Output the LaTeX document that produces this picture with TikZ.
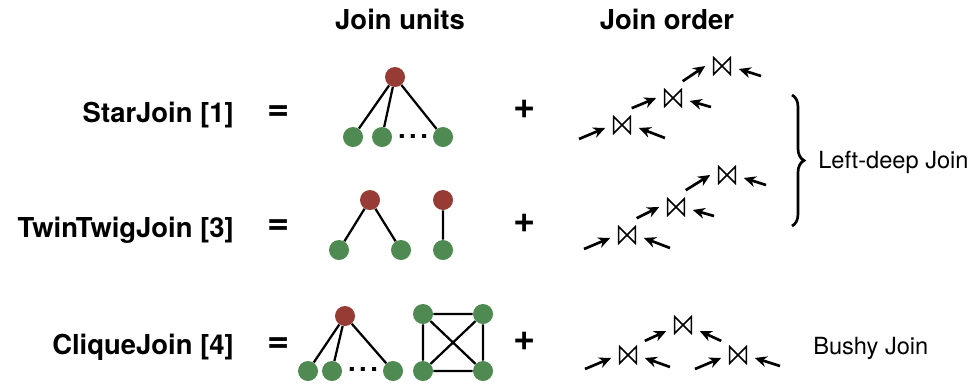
\documentclass[tikz,border=0pt]{standalone}
\usepackage{fontspec}
\setmainfont{TeX Gyre Heros}
\usetikzlibrary{arrows.meta,decorations.pathreplacing}

\begin{document}
\begin{tikzpicture}[x=0.025cm,y=-0.025cm,
  root/.style={circle,fill=rootred,minimum size=0.5cm,inner sep=0},
  leaf/.style={circle,fill=leafgreen,minimum size=0.5cm,inner sep=0},
  edge/.style={line width=1.6pt},
  lbl/.style={font=\fontsize{19.5}{23}\selectfont\bfseries,inner sep=0},
  op/.style={font=\fontsize{27}{30}\selectfont\bfseries,inner sep=0},
  txt/.style={font=\fontsize{16.8}{20}\selectfont,inner sep=0},
  jn/.style={minimum size=0.46cm,inner sep=0,outer sep=0.19cm,
    path picture={\draw[line width=1.2pt]
      ([shift={(0.6pt,0.6pt)}]path picture bounding box.south west) --
      ([shift={(0.6pt,-0.6pt)}]path picture bounding box.north west) --
      ([shift={(-0.6pt,0.6pt)}]path picture bounding box.south east) --
      ([shift={(-0.6pt,-0.6pt)}]path picture bounding box.north east) -- cycle;}},
  jarrow/.style={-{Stealth[length=0.3cm,width=0.27cm]},line width=1.9pt}]
\definecolor{rootred}{HTML}{973B35}
\definecolor{leafgreen}{HTML}{4E8A52}
\useasboundingbox (0,0) rectangle (972,383);

% column heads
\node[lbl,anchor=base] (units) at (400,29) {Join units};
\node[lbl,anchor=base] (order) at (667,29) {Join order};

% row names, = and +
\foreach \nm/\txt/\y/\yc in {star/StarJoin [1]/122/113, twin/TwinTwigJoin [3]/237/227, clique/CliqueJoin [4]/354/345}
{
  \node[lbl,anchor=base east] (\nm) at (234,\y) {\txt};
  \node[op] (\nm eq) at (279,\yc) {=};
  \node[op] (\nm plus) at (525,\yc-4) {+};
}

% star unit
\node[root] (sr) at (395,77) {};
\node[leaf] (sa) at (353,137) {};
\node[leaf] (sb) at (382,137) {};
\node[leaf] (sc) at (443,137) {};
\node[lbl] (sdots) at (413,136) {.\hspace{2.5pt}.\hspace{2.5pt}.};
\draw[edge] (sr) -- (sa) (sr) -- (sb) (sr) -- (sc);

% twin twig units
\node[root] (tr) at (370,200) {};
\node[leaf] (ta) at (339,250) {};
\node[leaf] (tb) at (401,250) {};
\node[root] (ur) at (443,200) {};
\node[leaf] (ua) at (443,250) {};
\draw[edge] (tr) -- (ta) (tr) -- (tb) (ur) -- (ua);

% clique units: star + 4-clique
\node[root] (cr) at (345,316) {};
\node[leaf] (ca) at (308,371) {};
\node[leaf] (cb) at (332,371) {};
\node[leaf] (cc) at (393,371) {};
\node[lbl] (cdots) at (363,369) {.\hspace{2.5pt}.\hspace{2.5pt}.};
\draw[edge] (cr) -- (ca) (cr) -- (cb) (cr) -- (cc);
\node[leaf] (q1) at (423,314) {};
\node[leaf] (q2) at (483,314) {};
\node[leaf] (q3) at (423,371) {};
\node[leaf] (q4) at (483,371) {};
\draw[edge] (q1) -- (q2) -- (q4) -- (q3) -- (q1) -- (q4) (q2) -- (q3);

% left-deep orders
\foreach \t/\xa/\ya/\xb/\yb/\xc/\yc in {s/622/125/673/98/722/66, t/627/235/676/207/727/175}
{
  \node[jn] (\t1) at (\xa,\ya) {};
  \node[jn] (\t2) at (\xb,\yb) {};
  \node[jn] (\t3) at (\xc,\yc) {};
  \coordinate (\t0) at (\xa-43,\ya+14);
  \coordinate (\t1r) at (\xa+43,\ya+13);
  \coordinate (\t2r) at (\xb+38,\yb+9);
  \coordinate (\t3r) at (\xc+39,\yc+10);
  \draw[jarrow] (\t0) -- (\t1.190);
  \draw[jarrow] (\t1r) -- (\t1.-10);
  \draw[jarrow] (\t1.60) -- (\t2.180);
  \draw[jarrow] (\t2r) -- (\t2.-10);
  \draw[jarrow] (\t2.60) -- (\t3.180);
  \draw[jarrow] (\t3r) -- (\t3.-10);
}

% bushy order
\node[jn] (bl) at (628,355) {};
\node[jn] (br) at (738,355) {};
\node[jn] (bt) at (683,325) {};
\coordinate (bl0) at (585,369);
\coordinate (bl1) at (670,367);
\coordinate (br0) at (695,369);
\coordinate (br1) at (780,366);
\draw[jarrow] (bl0) -- (bl.190);
\draw[jarrow] (bl1) -- (bl.-10);
\draw[jarrow] (br0) -- (br.190);
\draw[jarrow] (br1) -- (br.-10);
\draw[jarrow] (bl.40) -- (bt.200);
\draw[jarrow] (br.140) -- (bt.-20);

% brace over the two left-deep rows
\coordinate (brtop) at (792,95);
\coordinate (brbot) at (792,226);
\draw[decorate,decoration={brace,amplitude=0.3cm},line width=1.9pt] (brtop) -- (brbot);
\node[txt,anchor=west] (leftdeep) at (818,162) {Left-deep Join};
\node[txt,anchor=west] (bushy) at (813,348) {Bushy Join};
\end{tikzpicture}
\end{document}
